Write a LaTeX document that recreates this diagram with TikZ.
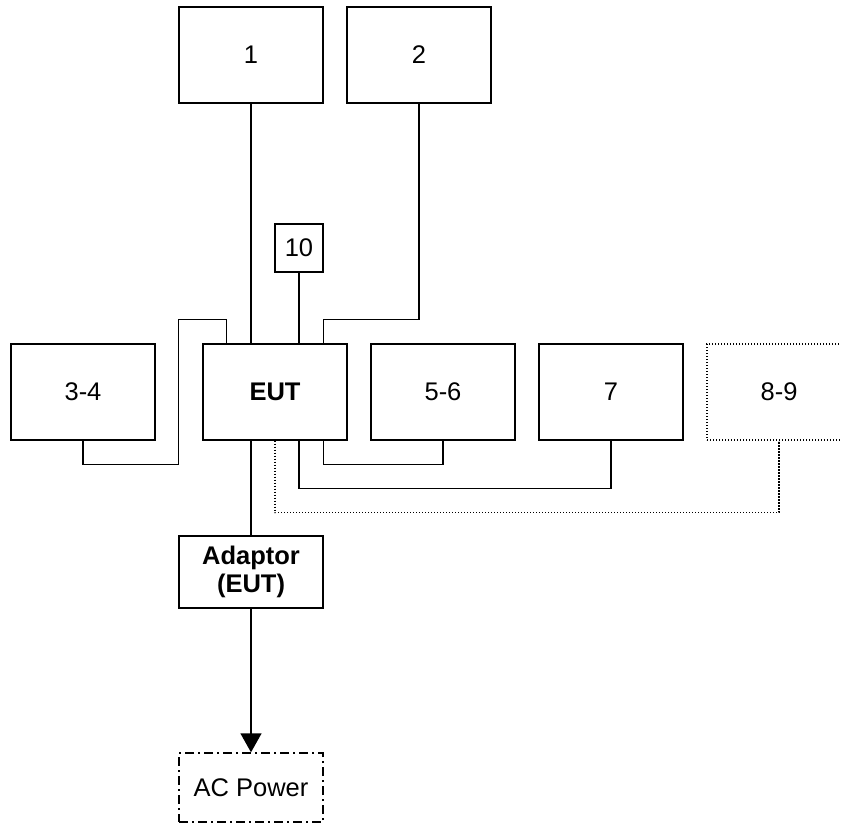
\documentclass[tikz,border=0pt]{standalone}
\usepackage{fontspec}
\setmainfont{Liberation Sans}
\usetikzlibrary{arrows.meta}
\tikzset{
  txt/.style={font=\fontsize{25.5}{29}\selectfont},
  dev/.style={draw, line width=1.4pt, minimum width=144pt, minimum height=96pt, inner sep=0pt, txt},
  small/.style={draw, line width=1.4pt, minimum width=48pt, minimum height=48pt, inner sep=0pt, txt},
  wire/.style={line width=1.4pt},
  dotwire/.style={line width=1.4pt, dash pattern=on 1.4pt off 1.6pt},
  dashdot/.style={dash pattern=on 9pt off 4pt on 2pt off 4pt}
}
\begin{document}
\begin{tikzpicture}[x=1pt,y=-1pt]
\useasboundingbox (0,0) rectangle (841,825);
\node[dev] (b1) at (251,55) {1};
\node[dev] (b2) at (419,55) {2};
\node[small] (b10) at (299,248) {10};
\node[dev] (s34) at (83,392) {3-4};
\node[dev, font=\fontsize{25.5}{29}\selectfont\bfseries] (eut) at (275,392) {EUT};
\node[dev] (s56) at (443,392) {5-6};
\node[dev] (s7) at (611,392) {7};
\node[dev, dotwire] (s89) at (779,392) {8-9};
\node[dev, minimum height=72pt, align=center, font=\fontsize{25.5}{28}\selectfont\bfseries] (ad) at (251,572) {Adaptor\\(EUT)};
\node[dev, minimum height=69pt, dashdot] (ac) at (251,787.5) {AC Power};

\draw[wire] (b1.south) -- (b1.south |- eut.north);
\draw[wire] (b10.south) -- (b10.south |- eut.north);
\draw[wire] (b2.south) |- ([xshift=-24pt,yshift=24pt]eut.north east) -- ([xshift=-24pt]eut.north east);
\draw[wire] ([xshift=24pt]eut.north west) -- ++(0,-24) -| ([xshift=-24pt,yshift=-24pt]eut.south west) -| (s34.south);
\draw[wire] ([xshift=-24pt]eut.south east) |- ([yshift=-24pt]s56.south) -- (s56.south);
\draw[wire] ([xshift=24pt]eut.south) |- ([yshift=-48pt]s7.south) -- (s7.south);
\draw[dotwire] (eut.south) |- ([yshift=-72pt]s89.south) -- (s89.south);
\draw[wire] ([xshift=-24pt]eut.south) -- (ad.north);
\draw[wire, -{Triangle[width=21pt,length=19pt]}] (ad.south) -- (ac.north);
\end{tikzpicture}
\end{document}
